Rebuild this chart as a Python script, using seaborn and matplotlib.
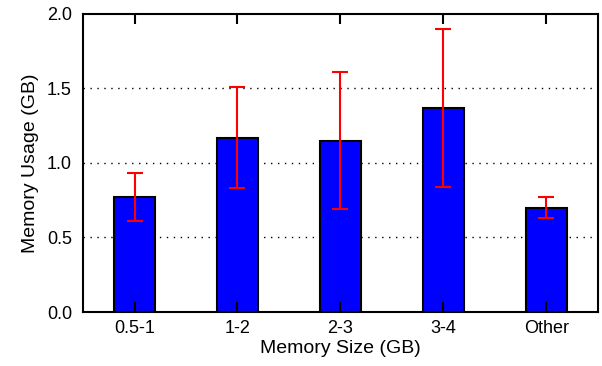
import numpy as np
import pandas as pd
import seaborn as sns
import matplotlib.pyplot as plt

# Data
sizes = ["0.5-1", "1-2", "2-3", "3-4", "Other"]
usage = [0.77, 1.17, 1.15, 1.37, 0.70]
err_low = [0.61, 0.83, 0.69, 0.84, 0.63]
err_high = [0.93, 1.51, 1.61, 1.90, 0.77]

sns.set_theme(style="white")
plt.rcParams['font.family'] = ['Liberation Sans', 'DejaVu Sans']
plt.rcParams.update({'text.color': 'black', 'axes.labelcolor': 'black',
                     'xtick.color': 'black', 'ytick.color': 'black'})

df = pd.DataFrame({"size": sizes, "usage": usage})

fig = plt.figure(figsize=(6.02, 3.66), dpi=100)
ax = fig.add_axes([0.138, 0.1475, 0.855, 0.8145])

sns.barplot(data=df, x="size", y="usage", color="#0000ff", saturation=1,
            edgecolor="black", linewidth=1.5, width=0.4, ax=ax, zorder=2)

xs = np.arange(len(sizes))
yerr = [np.array(usage) - np.array(err_low), np.array(err_high) - np.array(usage)]
ax.errorbar(xs, usage, yerr=yerr, fmt="none", ecolor="#ff0000", elinewidth=1.5,
            capsize=6, capthick=1.5, zorder=4)

ax.set_xlim(-0.5, 4.5)
ax.set_ylim(0, 2.0)
yt = [0.0, 0.5, 1.0, 1.5, 2.0]
ax.set_yticks(yt)
ax.set_yticklabels([f"{v:.1f}" for v in yt])
# dotted grid behind the bars, ticks drawn on top
for v in yt[1:-1]:
    ax.axhline(v, linestyle=(0, (1, 4)), color="black", linewidth=1.0, zorder=1)
ax.set_axisbelow(False)

for s in ax.spines.values():
    s.set_color("black")
    s.set_linewidth(1.5)
    s.set_zorder(5)

ax.tick_params(axis="x", direction="in", length=7, width=1.5, top=True, bottom=True,
               labelsize=13, pad=6)
ax.tick_params(axis="y", length=0, labelsize=13, pad=8)

ax.set_xlabel("Memory Size (GB)", fontsize=14, labelpad=2)
ax.set_ylabel("Memory Usage (GB)", fontsize=14, labelpad=6)

fig.savefig("out.png", dpi=100)
